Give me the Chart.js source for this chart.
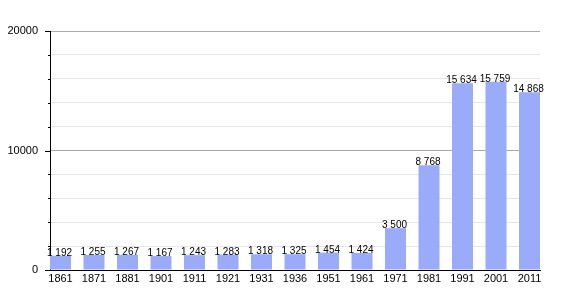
<!DOCTYPE html>
<html>
<head>
<meta charset="utf-8">
<script src="https://cdn.jsdelivr.net/npm/chart.js@4"></script>
<style>
  html, body { margin: 0; padding: 0; background: #fff; }
  #wrap { width: 570px; height: 300px; }
</style>
</head>
<body>
<div id="wrap"><canvas id="popChart" width="570" height="300"></canvas></div>
<script>
const years = ["1861", "1871", "1881", "1901", "1911", "1921", "1931", "1936",
  "1951", "1961", "1971", "1981", "1991", "2001", "2011"];
const population = [1192, 1255, 1267, 1167, 1243, 1283, 1318, 1325,
  1454, 1424, 3500, 8768, 15634, 15759, 14868];
const yTicks = [0, 10000, 20000];

const FONT = "'Liberation Sans', Arial, Helvetica, sans-serif";

function fmt(n) {
  return String(n).replace(/\B(?=(\d{3})+(?!\d))/g, " ");
}

// value labels over the bars
const barLabels = {
  id: "barLabels",
  afterDatasetsDraw(chart) {
    const ctx = chart.ctx;
    const meta = chart.getDatasetMeta(0);
    ctx.save();
    ctx.font = "10px " + FONT;
    ctx.fillStyle = "#000";
    ctx.textAlign = "center";
    ctx.textBaseline = "alphabetic";
    meta.data.forEach((bar, i) => {
      ctx.fillText(fmt(population[i]), bar.x - 1, bar.y);
    });
    ctx.restore();
  },
};

// tick marks on the y axis, long for labelled values, short for the rest
const yTickMarks = {
  id: "yTickMarks",
  afterDraw(chart) {
    const ctx = chart.ctx;
    const y = chart.scales.y;
    const left = chart.chartArea.left;
    ctx.save();
    ctx.strokeStyle = "#000";
    ctx.lineWidth = 1;
    y.ticks.forEach((t) => {
      const py = Math.round(y.getPixelForValue(t.value)) + 0.5;
      const len = yTicks.includes(t.value) ? 5 : 2;
      ctx.beginPath();
      ctx.moveTo(left - len, py);
      ctx.lineTo(left, py);
      ctx.stroke();
    });
    ctx.restore();
  },
};

new Chart(document.getElementById("popChart"), {
  type: "bar",
  data: {
    datasets: [
      {
        data: population.map((v, i) => ({ x: i, y: v })),
        backgroundColor: "#9aabf9",
        categoryPercentage: 1,
        barPercentage: 0.627,
      },
    ],
  },
  options: {
    responsive: false,
    animation: false,
    layout: { padding: { top: 31, right: 30, left: 0, bottom: 0 } },
    plugins: { legend: { display: false }, tooltip: { enabled: false } },
    scales: {
      x: {
        type: "linear",
        offset: false,
        min: -0.3134,
        max: 14.3134,
        afterBuildTicks: (s) => {
          s.ticks = years.map((_, i) => ({ value: i }));
        },
        afterFit: (s) => { s.height = 30; },
        ticks: {
          autoSkip: false,
          maxRotation: 0,
          padding: 2,
          color: "#000",
          font: { family: FONT, size: 11 },
          callback: (v) => years[v],
        },
        grid: { display: false, drawTicks: false, offset: false },
        border: { display: true, color: "#000", width: 1 },
      },
      y: {
        min: 0,
        max: 20000,
        afterFit: (s) => { s.width = 50; },
        ticks: {
          stepSize: 2000,
          padding: 12,
          color: "#000",
          font: { family: FONT, size: 11 },
          callback: (v) => (yTicks.includes(v) ? String(v) : ""),
        },
        grid: {
          drawTicks: false,
          color: (c) => {
            const v = c.tick.value;
            if (v === 0) return "#000";
            return yTicks.includes(v) ? "#aaaaaa" : "#e6e6e6";
          },
        },
        border: { display: true, color: "#000", width: 1 },
      },
    },
  },
  plugins: [barLabels, yTickMarks],
});
</script>
</body>
</html>
